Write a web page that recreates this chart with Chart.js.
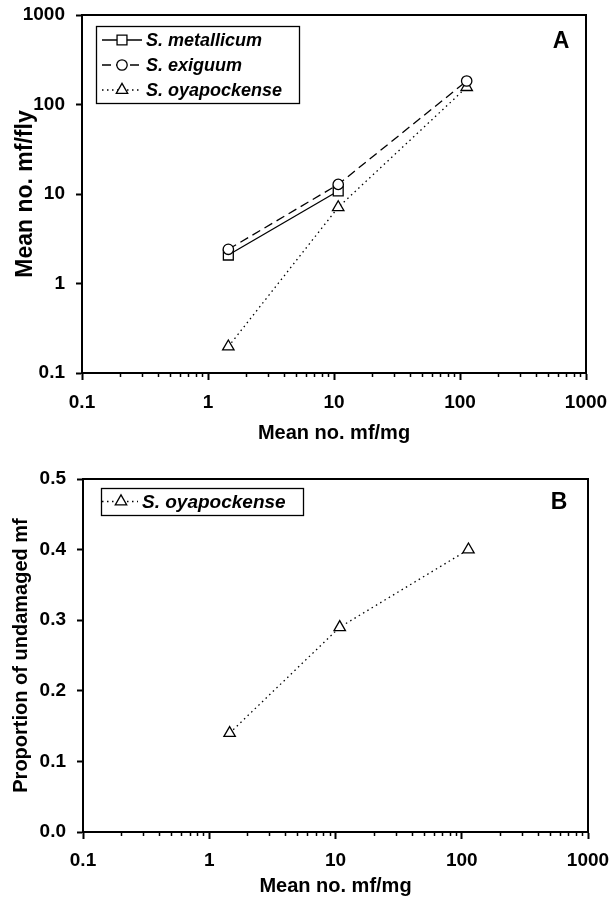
<!DOCTYPE html>
<html>
<head>
<meta charset="utf-8">
<script src="https://cdn.jsdelivr.net/npm/chart.js@4.4.1/dist/chart.umd.min.js"></script>
<style>
  body { margin: 0; background: #fff; }
  canvas { position: absolute; left: 0; }
  #chartA { top: 0; }
  #chartB { top: 450px; }
</style>
</head>
<body>
<canvas id="chartA" width="610" height="450"></canvas>
<canvas id="chartB" width="610" height="450"></canvas>
<script>
// Data
const mfPerMg = [1.45, 10.8, 113];
const metallicumPerFly = [2.08, 10.8];
const exiguumPerFly = [2.41, 12.8, 183];
const oyapockensePerFly = [0.197, 7.1, 156];
const oyapockenseUndamaged = [0.14, 0.29, 0.40];

const speciesNames = ['S. metallicum', 'S. exiguum', 'S. oyapockense'];
const logTickValues = [0.1, 1, 10, 100, 1000];
const logMinorSteps = [2, 3, 4, 5, 6, 7, 8, 9];
const proportionTicks = [0, 0.1, 0.2, 0.3, 0.4, 0.5];
const xTitle = 'Mean no. mf/mg';
const yTitleA = 'Mean no. mf/fly';
const yTitleB = 'Proportion of undamaged mf';

const FONT = "'Liberation Sans', Arial, Helvetica, sans-serif";
Chart.defaults.font.family = FONT;
Chart.defaults.color = '#000';

const tickFont = { size: 19, weight: 'bold' };
const titleFont = { size: 20, weight: 'bold' };

const toPoints = (xs, ys) => ys.map((y, i) => ({ x: xs[i], y: y }));

// dataset styles
function series(label, xs, ys, style) {
    return Object.assign({
        label: label,
        data: toPoints(xs, ys),
        borderColor: '#000',
        borderWidth: 1.3,
        backgroundColor: '#fff',
        pointBackgroundColor: '#fff',
        pointBorderColor: '#000',
        pointBorderWidth: 1.3,
        fill: false,
        tension: 0
    }, style);
}
const solidSquare = { pointStyle: 'rect', pointRadius: 7, borderDash: [], order: 1 };
const dashedCircle = { pointStyle: 'circle', pointRadius: 5.2, borderDash: [9, 5], order: 0 };
const dottedTriangle = { pointStyle: 'triangle', pointRadius: 6.6, borderDash: [1.5, 3.5], order: 2 };

// keep label overflow from pushing the plot area around
function fixSize(key, size) {
    return s => {
        s[key] = size;
        s.paddingLeft = 0; s.paddingRight = 0;
        s.paddingTop = 0; s.paddingBottom = 0;
    };
}

// draws the frame, minor log ticks, boxed legend and panel letter
const panelPlugin = {
    id: 'panel',
    afterDraw(chart, args, opts) {
        const ctx = chart.ctx;
        const area = chart.chartArea;
        ctx.save();

        // top and right frame
        ctx.strokeStyle = '#000';
        ctx.lineWidth = 2;
        ctx.beginPath();
        ctx.moveTo(area.left, area.top);
        ctx.lineTo(area.right, area.top);
        ctx.lineTo(area.right, area.bottom);
        ctx.stroke();

        // minor ticks on log x axis
        const xs = chart.scales.x;
        ctx.lineWidth = 1.5;
        ctx.beginPath();
        logTickValues.slice(0, -1).forEach(dec => {
            logMinorSteps.forEach(m => {
                const px = Math.round(xs.getPixelForValue(dec * m)) + 0.5;
                ctx.moveTo(px, area.bottom);
                ctx.lineTo(px, area.bottom + 4);
            });
        });
        ctx.stroke();

        // legend box
        const lg = opts.legend;
        ctx.lineWidth = 1.3;
        ctx.strokeRect(lg.left + 0.5, lg.top + 0.5, lg.width, lg.height);
        chart.data.datasets.forEach((ds, i) => {
            const y = lg.top + lg.firstRow + i * lg.rowHeight;
            ctx.setLineDash(ds.borderDash || []);
            ctx.lineWidth = ds.borderWidth;
            ctx.beginPath();
            ctx.moveTo(lg.left + lg.lineFrom, y);
            ctx.lineTo(lg.left + lg.lineTo, y);
            ctx.stroke();
            ctx.setLineDash([]);
            ctx.fillStyle = '#fff';
            ctx.strokeStyle = '#000';
            ctx.lineWidth = ds.pointBorderWidth;
            Chart.helpers.drawPoint(ctx, {
                pointStyle: ds.pointStyle, radius: ds.pointRadius,
                borderWidth: ds.pointBorderWidth, rotation: 0
            }, lg.left + lg.marker, y);
            ctx.fillStyle = '#000';
            ctx.font = 'italic bold ' + lg.fontSize + 'px ' + FONT;
            ctx.textAlign = 'left';
            ctx.textBaseline = 'middle';
            ctx.fillText(ds.label, lg.left + lg.textX, y + 1);
        });

        // panel letter
        ctx.fillStyle = '#000';
        ctx.font = 'bold 23px ' + FONT;
        ctx.textAlign = 'center';
        ctx.textBaseline = 'middle';
        ctx.fillText(opts.letter, area.right - opts.letterDx, area.top + opts.letterDy);
        ctx.restore();
    }
};

function logXScale(height, labelPad, titleBottom) {
    return {
        type: 'logarithmic',
        position: 'bottom',
        min: 0.1,
        max: 1000,
        afterBuildTicks: s => { s.ticks = logTickValues.map(v => ({ value: v })); },
        afterFit: fixSize('height', height),
        border: { display: true, color: '#000', width: 2 },
        grid: { drawOnChartArea: false, tickLength: 7, tickWidth: 2, tickColor: '#000' },
        ticks: { font: tickFont, color: '#000', padding: labelPad, maxRotation: 0, autoSkip: false,
                 callback: v => String(v) },
        title: { display: true, text: xTitle, font: titleFont, color: '#000',
                 padding: { top: 0, bottom: titleBottom } }
    };
}

// Panel A: mf per fly
new Chart(document.getElementById('chartA'), {
    type: 'line',
    data: {
        datasets: [
            series(speciesNames[0], mfPerMg, metallicumPerFly, solidSquare),
            series(speciesNames[1], mfPerMg, exiguumPerFly, dashedCircle),
            series(speciesNames[2], mfPerMg, oyapockensePerFly, dottedTriangle)
        ]
    },
    options: {
        responsive: false,
        animation: false,
        events: [],
        layout: { padding: { top: 15, right: 24, left: 0, bottom: 0 } },
        scales: {
            x: logXScale(77, 11, 5),
            y: {
                type: 'logarithmic',
                min: 0.1,
                max: 1000,
                afterBuildTicks: s => { s.ticks = logTickValues.map(v => ({ value: v })); },
                afterFit: fixSize('width', 82),
                border: { display: true, color: '#000', width: 2 },
                grid: { drawOnChartArea: false, tickLength: 6, tickWidth: 2, tickColor: '#000' },
                ticks: { font: tickFont, color: '#000', padding: 11, callback: v => String(v) },
                title: { display: true, text: yTitleA, font: { size: 23, weight: 'bold' }, color: '#000',
                         padding: { top: 12, bottom: 0 } }
            }
        },
        plugins: {
            legend: { display: false },
            tooltip: { enabled: false },
            panel: {
                letter: 'A', letterDx: 25, letterDy: 27,
                legend: { left: 96, top: 26, width: 203, height: 77, firstRow: 14, rowHeight: 25,
                          lineFrom: 6, lineTo: 46, marker: 26, textX: 50, fontSize: 18 }
            }
        }
    },
    plugins: [panelPlugin]
});

// Panel B: proportion undamaged
new Chart(document.getElementById('chartB'), {
    type: 'line',
    data: {
        datasets: [
            series(speciesNames[2], mfPerMg, oyapockenseUndamaged, dottedTriangle)
        ]
    },
    options: {
        responsive: false,
        animation: false,
        events: [],
        layout: { padding: { top: 29, right: 22, left: 0, bottom: 0 } },
        scales: {
            x: logXScale(68, 10, 2),
            y: {
                type: 'linear',
                min: 0,
                max: 0.5,
                afterBuildTicks: s => { s.ticks = proportionTicks.map(v => ({ value: v })); },
                afterFit: fixSize('width', 83),
                border: { display: true, color: '#000', width: 2 },
                grid: { drawOnChartArea: false, tickLength: 6, tickWidth: 2, tickColor: '#000' },
                ticks: { font: tickFont, color: '#000', padding: 11, callback: v => v.toFixed(1) },
                title: { display: true, text: yTitleB, font: titleFont, color: '#000',
                         padding: { top: 9, bottom: 0 } }
            }
        },
        plugins: {
            legend: { display: false },
            tooltip: { enabled: false },
            panel: {
                letter: 'B', letterDx: 29, letterDy: 24,
                legend: { left: 101, top: 38, width: 202, height: 27, firstRow: 13.5, rowHeight: 25,
                          lineFrom: 1, lineTo: 37, marker: 20, textX: 41, fontSize: 19 }
            }
        }
    },
    plugins: [panelPlugin]
});
</script>
</body>
</html>
